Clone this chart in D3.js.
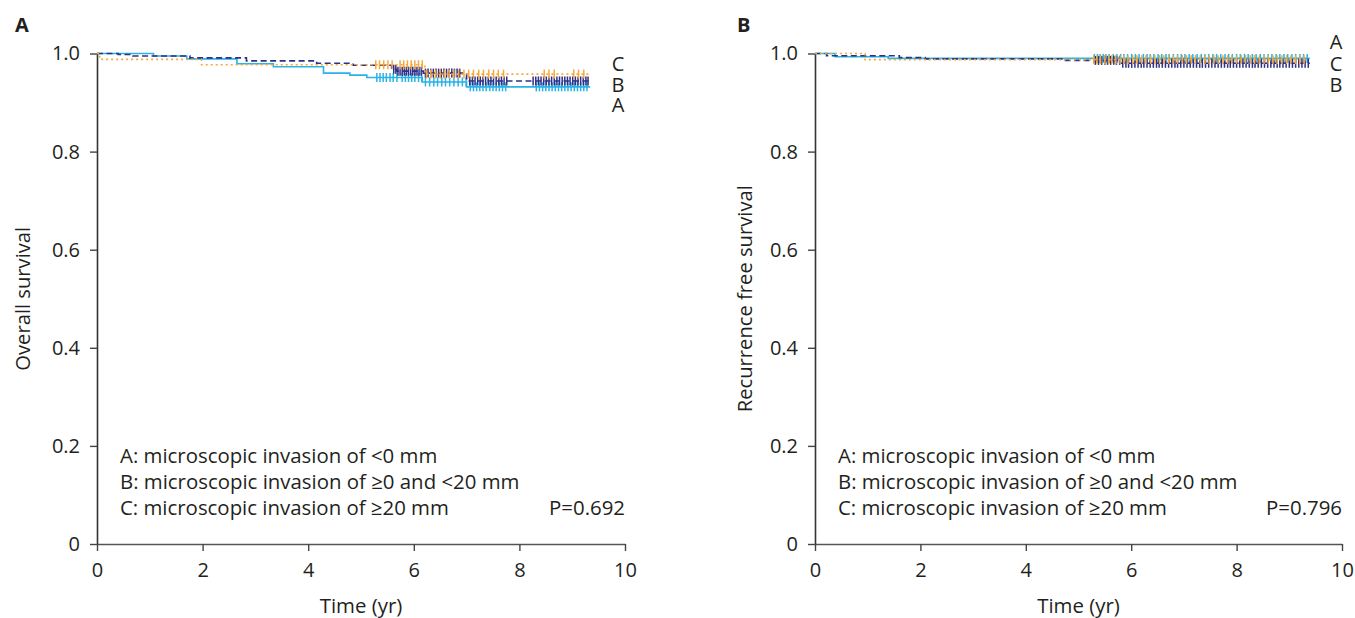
<!DOCTYPE html>
<html><head><meta charset="utf-8">
<script src="https://cdn.jsdelivr.net/npm/d3@7"></script>
<style>
body{margin:0;background:#fff}
svg{display:block}
text{font-family:"Open Sans","Liberation Sans",Arial,sans-serif;fill:#231f20}
</style>
</head><body>
<svg id="chart" width="1355" height="618"></svg>
<script>
// ---------- data ----------
const groups = ["A","B","C"];
const legendLabels = [
  "A: microscopic invasion of <0 mm",
  "B: microscopic invasion of \u22650 and <20 mm",
  "C: microscopic invasion of \u226520 mm"
];
const xTickValues = [0,2,4,6,8,10];
const yTickValues = [0,0.2,0.4,0.6,0.8,1.0];
const yTickLabels = ["0","0.2","0.4","0.6","0.8","1.0"];
const panelLetters = ["A","B"];
const yTitles = ["Overall survival","Recurrence free survival"];
const xTitle = "Time (yr)";
const pValues = ["P=0.692","P=0.796"];
const endLabelOrder = [["C","B","A"],["A","C","B"]];

// Panel A: overall survival
const osTimesA = [0,1.07,1.70,2.65,3.34,4.29,4.79,5.11,6.16,7.00];
const osSurvA  = [1,0.995,0.989,0.979,0.973,0.960,0.956,0.951,0.942,0.932];
const osTimesB = [0,0.40,0.68,1.76,2.83,4.16,4.85,5.58,5.68,6.18,7.00];
const osSurvB  = [1,0.998,0.995,0.991,0.985,0.980,0.976,0.968,0.964,0.960,0.944];
const osTimesC = [0,0.05,1.98,6.21];
const osSurvC  = [1,0.988,0.977,0.958];
const osEnd = [9.34,9.34,9.34];
const osCensA = [5.30,5.36,5.42,5.48,5.55,5.61,5.68,5.78,5.84,5.90,5.96,6.02,6.09,6.15,6.22,6.30,6.38,6.45,6.53,6.60,6.68,6.76,6.84,6.92,6.99,7.07,7.13,7.19,7.25,7.31,7.37,7.44,7.50,7.56,7.62,7.68,7.74,8.32,8.38,8.44,8.50,8.56,8.62,8.68,8.74,8.80,8.86,8.92,8.98,9.04,9.10,9.16,9.22,9.28];
const osCensB = [5.62,5.66,5.70,5.74,5.78,5.82,5.86,5.90,5.94,5.98,6.02,6.06,6.10,6.14,6.22,6.27,6.32,6.37,6.42,6.47,6.52,6.57,6.62,6.67,6.72,6.77,6.82,6.87,7.06,7.11,7.16,7.21,7.26,7.31,7.36,7.41,7.46,7.51,7.56,7.61,7.66,7.71,7.76,8.26,8.31,8.36,8.41,8.46,8.51,8.56,8.61,8.66,8.71,8.76,8.81,8.86,8.91,8.96,9.01,9.06,9.11,9.16,9.21,9.26,9.30];
const osCensC = [5.28,5.35,5.43,5.51,5.59,5.74,5.81,5.88,5.95,6.02,6.09,6.16,6.24,6.32,6.41,6.50,6.58,6.67,6.76,6.85,6.95,7.04,7.13,7.23,7.32,7.42,7.51,7.60,7.70,8.47,8.56,8.66,9.03,9.12,9.22];

// Panel B: recurrence free survival
const rfsTimesA = [0,0.38,1.39];
const rfsSurvA  = [1,0.9935,0.990];
const rfsTimesB = [0,0.22,1.60,2.09,4.68,5.79];
const rfsSurvB  = [1,0.9955,0.9915,0.989,0.986,0.980];
const rfsTimesC = [0,0.95];
const rfsSurvC  = [1,0.9875];
const rfsEnd = [9.39,9.39,9.36];
const rfsCensA = [5.30,5.36,5.41,5.47,5.52,5.58,5.66,5.73,5.80,5.86,5.93,6.01,6.08,6.15,6.23,6.30,6.36,6.43,6.51,6.58,6.66,6.72,6.80,6.88,6.95,7.02,7.10,7.17,7.25,7.33,7.40,7.47,7.55,7.62,7.70,7.78,7.85,7.92,8.00,8.07,8.15,8.22,8.30,8.37,8.45,8.52,8.60,8.67,8.75,8.82,8.90,8.97,9.05,9.12,9.20,9.27,9.34];
const rfsCensB = [5.32,5.38,5.44,5.50,5.55,5.61,5.67,5.72,5.78,5.84,5.90,5.95,6.01,6.07,6.13,6.19,6.24,6.30,6.36,6.42,6.48,6.53,6.59,6.65,6.71,6.77,6.83,6.88,6.94,7.00,7.06,7.12,7.18,7.24,7.30,7.35,7.41,7.47,7.53,7.59,7.65,7.71,7.77,7.83,7.88,7.94,8.00,8.06,8.12,8.18,8.24,8.30,8.35,8.41,8.47,8.53,8.59,8.65,8.71,8.77,8.82,8.88,8.94,9.00,9.06,9.12,9.18,9.24,9.30,9.36];
const rfsCensC = [5.29,5.35,5.42,5.50,5.57,5.63,5.71,5.79,5.86,5.94,6.03,6.11,6.20,6.28,6.37,6.45,6.54,6.62,6.71,6.80,6.88,6.97,7.05,7.14,7.22,7.31,7.40,7.48,7.57,7.65,7.74,7.83,7.91,8.00,8.09,8.17,8.26,8.34,8.43,8.52,8.60,8.69,8.77,8.86,8.95,9.03,9.12,9.20,9.28];

// ---------- styles ----------
const colors = {A:"#29b3e6", B:"#2e3088", C:"#f8a83a"};
const dashes = {A:null, B:"6,3.5", C:"2,3"};
const drawOrder = ["A","B","C"];

const panels = [
  {curves:{A:{t:osTimesA,s:osSurvA,end:osEnd[0],c:osCensA},B:{t:osTimesB,s:osSurvB,end:osEnd[1],c:osCensB},C:{t:osTimesC,s:osSurvC,end:osEnd[2],c:osCensC}}},
  {curves:{A:{t:rfsTimesA,s:rfsSurvA,end:rfsEnd[0],c:rfsCensA},B:{t:rfsTimesB,s:rfsSurvB,end:rfsEnd[1],c:rfsCensB},C:{t:rfsTimesC,s:rfsSurvC,end:rfsEnd[2],c:rfsCensC}}}
];
const layout = [
  {x0:97, x1:625, letterX:15, titleX:30, endLabelX:618, endLabelY:[70.7,91.7,111.7]},
  {x0:815, x1:1342, letterX:737, titleX:752, endLabelX:1336, endLabelY:[49,71,92]}
];
const yTop = 53.5, yBot = 544;
const FONT = '"Open Sans","Liberation Sans",Arial,sans-serif';

const svg = d3.select("#chart");

panels.forEach((p, i) => {
  const L = layout[i];
  const x = d3.scaleLinear().domain([0,10]).range([L.x0, L.x1]);
  const y = d3.scaleLinear().domain([0,1]).range([yBot, yTop]);
  const g = svg.append("g");

  // axes
  const yAxis = d3.axisLeft(y).tickValues(yTickValues).tickFormat((d,k)=>yTickLabels[k])
    .tickSize(7).tickSizeOuter(0).tickPadding(10);
  const xAxis = d3.axisBottom(x).tickValues(xTickValues).tickFormat(d3.format("d"))
    .tickSize(7).tickSizeOuter(0).tickPadding(12);
  const ga = g.append("g").attr("transform",`translate(${L.x0},0)`).call(yAxis);
  const gx = g.append("g").attr("transform",`translate(0,${yBot})`).call(xAxis);
  ga.selectAll("path").attr("stroke","#333").attr("stroke-width",1.6);
  gx.selectAll("path").attr("stroke","#555").attr("stroke-width",1.6);
  [ga,gx].forEach(a=>{
    a.selectAll("line").attr("stroke","#444").attr("stroke-width",1.4);
    a.selectAll("text").attr("font-size",20).attr("fill","#231f20")
      .attr("font-family",FONT);
  });

  // curves
  drawOrder.forEach(k => {
    const cv = p.curves[k];
    const pts = cv.t.map((t,j)=>[t,cv.s[j]]);
    pts.push([cv.end, cv.s[cv.s.length-1]]);
    const line = d3.line().x(d=>x(d[0])).y(d=>y(d[1])).curve(d3.curveStepAfter);
    g.append("path").datum(pts).attr("d",line).attr("fill","none")
      .attr("stroke",colors[k]).attr("stroke-width",1.6)
      .attr("stroke-dasharray",dashes[k]);
    const sAt = t => { let v = cv.s[0]; cv.t.forEach((tt,j)=>{ if (tt<=t) v = cv.s[j]; }); return v; };
    g.append("g").selectAll("line").data(cv.c).join("line")
      .attr("x1",d=>x(d)).attr("x2",d=>x(d))
      .attr("y1",d=>y(sAt(d))-4.5).attr("y2",d=>y(sAt(d))+4.5)
      .attr("stroke",colors[k]).attr("stroke-width",1.5);
  });

  // end labels
  endLabelOrder[i].forEach((lab,j)=>{
    g.append("text").attr("x",L.endLabelX).attr("y",L.endLabelY[j])
      .attr("text-anchor","middle").attr("font-size",20).text(lab);
  });

  // legend
  legendLabels.forEach((lab,j)=>{
    g.append("text").attr("x",L.x0+23).attr("y",462.5+j*26.3)
      .attr("font-size",20.4).text(lab);
  });
  g.append("text").attr("x",L.x1).attr("y",515).attr("text-anchor","end")
    .attr("font-size",20.4).text(pValues[i]);

  // titles
  g.append("text").attr("x",(L.x0+L.x1)/2).attr("y",613).attr("text-anchor","middle")
    .attr("font-size",20.4).text(xTitle);
  g.append("text").attr("transform",`translate(${L.titleX},${(yTop+yBot)/2}) rotate(-90)`)
    .attr("text-anchor","middle").attr("font-size",20.2).text(yTitles[i]);
  g.append("text").attr("x",L.letterX).attr("y",32).attr("font-size",20)
    .attr("font-weight","bold").text(panelLetters[i]);
});
</script>
</body></html>
